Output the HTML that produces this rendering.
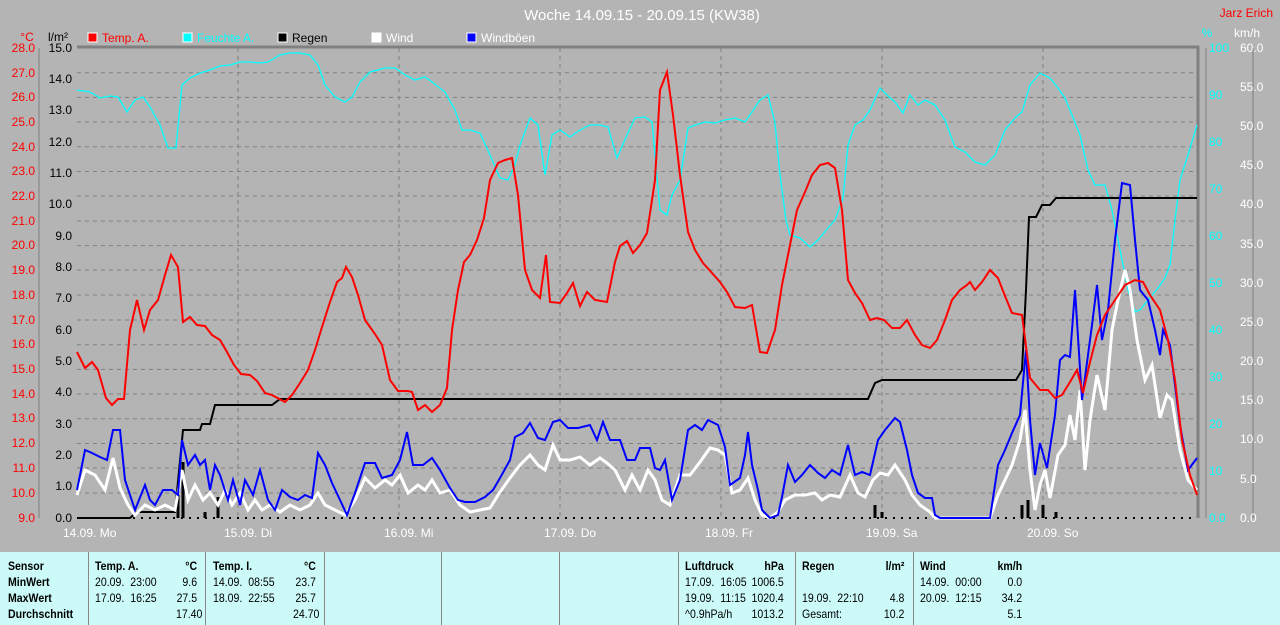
<!DOCTYPE html><html><head><meta charset="utf-8"><style>
body{margin:0;width:1280px;height:625px;background:#b4b4b4;overflow:hidden;font-family:"Liberation Sans",sans-serif}
svg{position:absolute;left:0;top:0}
.tb{position:absolute;left:0;top:552px;width:1280px;height:73px;background:#ccfaf8}
.c{position:absolute;top:6px;font-size:12px;line-height:16px;color:#000;transform:scaleX(.88);transform-origin:left top}
.b{font-weight:bold}
.sep{position:absolute;top:0;width:1px;height:73px;background:#888}
</style></head><body>
<svg width="1280" height="552" font-family="Liberation Sans" font-size="12">
<text x="642" y="20" fill="#fff" font-size="15" text-anchor="middle">Woche 14.09.15 - 20.09.15 (KW38)</text>
<text x="1273" y="17" fill="red" text-anchor="end">Jarz Erich</text>
<text x="27" y="41" fill="red" text-anchor="middle">°C</text>
<text x="58" y="41" fill="#000" text-anchor="middle">l/m²</text>
<text x="1207" y="37" fill="cyan" text-anchor="middle">%</text>
<text x="1247" y="37" fill="#fff" text-anchor="middle">km/h</text>
<g><rect x="88" y="33" width="9" height="9" fill="red" stroke="#fff"/><text x="102" y="42" fill="red">Temp. A.</text>
<rect x="183" y="33" width="9" height="9" fill="cyan" stroke="#fff"/><text x="197" y="42" fill="cyan">Feuchte A.</text>
<rect x="278" y="33" width="9" height="9" fill="#000" stroke="#fff"/><text x="292" y="42" fill="#000">Regen</text>
<rect x="372" y="33" width="9" height="9" fill="#fff" stroke="#fff"/><text x="386" y="42" fill="#fff">Wind</text>
<rect x="467" y="33" width="9" height="9" fill="blue" stroke="#fff"/><text x="481" y="42" fill="#fff">Windböen</text></g>
<g stroke="#808080" stroke-dasharray="4,4" stroke-width="1">
<path d="M77 72.7H1197M77 97.4H1197M77 122H1197M77 146.8H1197M77 171.5H1197M77 196H1197M77 221H1197M77 245.6H1197M77 270H1197M77 295H1197M77 320H1197M77 344.7H1197M77 369.4H1197M77 394H1197M77 418.8H1197M77 443.5H1197M77 468H1197M77 493H1197"/>
<path d="M238 48V518M399 48V518M560 48V518M721 48V518M882 48V518M1043 48V518"/>
</g>
<g stroke="#808080" fill="none"><path d="M77 47H1198V518" stroke-width="3"/><path d="M39 48V518M1206 48V518M1253 48V518"/></g>
<path d="M77 518H1197" stroke="#000" stroke-width="2" stroke-dasharray="2,6"/>
<polyline fill="none" stroke="cyan" stroke-width="1.3" points="77,90 90,92 100,98 110,96 118,97 127,112 135,100 143,97 150,107 160,125 168,148 176,148 182,85 190,78 200,73 210,70 220,66 230,65 240,62 250,62 260,63 268,62 280,55 290,53 300,53 310,55 318,65 325,85 335,97 345,102 352,97 360,82 370,72 385,68 395,68 405,75 415,80 425,77 432,82 445,92 455,110 462,130 470,130 480,133 490,155 500,178 508,180 515,165 520,145 530,118 538,125 545,175 552,135 560,130 570,137 580,130 590,125 600,125 608,127 617,158 627,135 635,118 645,117 652,122 660,210 667,215 672,195 680,180 688,128 695,125 705,122 715,123 725,120 735,118 745,122 752,112 760,100 768,95 775,123 780,175 786,220 790,235 800,238 810,247 818,240 828,228 835,220 843,198 848,145 855,125 863,120 870,110 880,88 888,96 895,102 903,113 910,95 918,105 925,100 935,105 945,120 955,147 965,152 975,162 985,165 995,155 1005,130 1015,118 1022,112 1030,85 1040,73 1050,78 1058,88 1065,98 1072,115 1080,135 1088,170 1095,185 1105,185 1112,210 1120,250 1128,290 1135,312 1140,310 1148,300 1158,288 1165,278 1170,265 1175,220 1180,180 1188,155 1197,125"/>
<g stroke="#000" stroke-width="3"><path d="M178 518V495M183 518V462M205 518V512M218 518V497M875 518V505M882 518V512M1022 518V505M1028 518V500M1043 518V505M1056 518V512"/></g>
<polyline fill="none" stroke="#000" stroke-width="2" points="77,518 130,518 137,512 175,512 183,430 200,430 202,424 210,424 215,405 272,405 280,399 868,399 875,383 882,380 1016,380 1022,370 1026,290 1029,217 1036,217 1042,205 1050,205 1056,198 1197,198"/>
<polyline fill="none" stroke="#fff" stroke-width="3" points="77,495 85,470 95,475 105,490 113,458 120,488 128,505 135,515 145,505 155,510 165,505 175,510 182,470 188,500 195,485 203,500 210,493 218,505 225,490 232,505 240,493 248,510 255,500 262,510 270,505 280,512 290,505 300,510 310,505 318,493 325,505 335,510 345,515 355,500 365,478 375,488 385,480 392,485 400,475 408,493 418,485 425,490 432,480 440,493 450,490 460,505 470,512 480,510 490,508 500,492 510,478 520,465 530,455 538,465 545,470 553,445 560,460 570,460 580,457 590,465 600,458 607,463 615,470 625,490 632,475 640,490 648,470 655,480 662,500 670,505 680,475 690,475 700,462 710,448 718,450 725,455 732,493 740,490 748,478 755,500 762,515 770,518 778,512 785,500 795,495 805,495 815,493 822,500 830,495 840,497 850,475 858,493 865,497 873,480 880,473 888,475 895,465 905,480 912,495 920,505 930,512 935,518 990,518 998,495 1005,480 1012,465 1020,440 1025,410 1030,470 1035,510 1040,485 1045,470 1050,498 1058,455 1065,445 1070,415 1075,440 1080,390 1085,470 1090,420 1097,375 1105,410 1112,330 1118,300 1125,270 1130,290 1137,340 1145,380 1152,365 1160,418 1167,395 1172,400 1180,450 1188,480 1197,490"/>
<polyline fill="none" stroke="blue" stroke-width="2" points="77,490 85,450 92,453 100,457 107,460 113,430 120,430 125,480 135,510 145,485 150,500 155,505 163,490 172,490 178,495 182,440 188,465 195,455 200,465 205,460 210,490 215,465 220,475 228,500 233,480 240,505 245,480 253,495 260,470 268,500 275,510 282,490 290,497 298,500 305,495 312,498 318,453 325,465 332,483 340,500 347,515 355,493 365,463 375,463 382,478 392,475 400,460 407,432 413,465 423,465 432,458 440,470 450,488 458,500 465,502 475,502 485,497 493,490 500,478 510,460 515,437 523,433 530,423 538,438 545,440 553,422 560,420 568,428 578,428 590,425 597,440 603,422 610,440 620,440 627,460 635,460 640,448 650,448 655,468 660,470 665,460 672,500 680,480 688,430 695,425 702,430 708,420 718,425 725,447 730,485 740,478 745,455 748,432 752,465 758,490 762,510 770,518 778,515 782,497 788,465 795,482 802,475 810,465 818,473 825,478 832,470 840,475 848,445 855,475 862,472 870,475 878,440 885,430 895,418 900,422 907,450 912,475 918,493 925,498 932,498 935,515 940,518 990,518 998,465 1005,450 1012,433 1020,415 1026,350 1030,420 1035,475 1040,443 1047,468 1055,415 1060,360 1065,355 1070,357 1075,290 1082,400 1088,355 1092,325 1097,285 1102,340 1108,310 1115,240 1122,183 1130,185 1135,240 1140,290 1148,300 1155,330 1160,355 1163,330 1170,345 1175,385 1180,425 1188,470 1197,458"/>
<polyline fill="none" stroke="red" stroke-width="2" points="77,352 85,368 92,362 98,370 106,398 112,405 118,399 124,399 130,330 137,300 144,330 150,310 158,300 165,275 171,255 178,267 183,322 190,317 197,325 205,326 212,335 220,340 227,352 234,365 241,374 250,375 257,381 265,393 272,395 285,402 292,395 300,383 308,370 315,350 322,327 330,302 337,282 342,278 346,267 352,277 358,295 365,320 375,334 382,345 390,380 398,391 408,391 412,392 418,410 425,405 432,412 440,405 447,388 452,330 458,290 464,262 470,255 477,240 484,218 490,180 498,163 505,160 512,158 518,195 525,270 532,290 540,298 546,255 550,302 560,303 567,293 573,283 580,306 587,292 595,300 607,302 615,262 620,246 627,241 633,253 640,245 647,233 655,180 660,90 667,72 673,115 680,175 688,232 695,250 703,263 712,273 720,282 727,292 735,307 745,308 752,305 760,352 767,353 775,330 782,285 790,245 797,210 805,192 812,175 820,165 828,163 835,168 842,210 848,280 855,293 862,303 870,320 877,318 884,320 892,328 900,328 907,320 915,335 922,345 930,348 937,340 945,320 952,300 960,290 967,285 970,282 975,290 982,282 990,270 998,278 1005,296 1012,313 1022,315 1030,378 1040,390 1048,390 1055,398 1062,395 1070,382 1077,370 1083,393 1090,362 1097,335 1105,315 1115,300 1125,285 1135,280 1143,282 1150,295 1160,310 1168,340 1175,380 1182,440 1190,475 1197,495"/>
<g fill="#fff" font-size="12"><text x="63" y="537">14.09.  Mo</text><text x="224" y="537">15.09.  Di</text><text x="384" y="537">16.09.  Mi</text><text x="544" y="537">17.09.  Do</text><text x="705" y="537">18.09.  Fr</text><text x="866" y="537">19.09.  Sa</text><text x="1027" y="537">20.09.  So</text></g>
</svg>
<div class="tb">
<div class="sep" style="left:88px"></div><div class="sep" style="left:205px"></div><div class="sep" style="left:324px"></div><div class="sep" style="left:441px"></div><div class="sep" style="left:559px"></div><div class="sep" style="left:678px"></div><div class="sep" style="left:795px"></div><div class="sep" style="left:913px"></div>
<div class="c b" style="left:8px">Sensor<br>MinWert<br>MaxWert<br>Durchschnitt</div>
<div class="c" style="left:95px"><b>Temp. A.</b><br>20.09.&nbsp; 23:00<br>17.09.&nbsp; 16:25</div>
<div class="c" style="left:176px;text-align:right;width:24px"><b>°C</b><br>9.6<br>27.5<br>17.40</div>
<div class="c" style="left:213px"><b>Temp. I.</b><br>14.09.&nbsp; 08:55<br>18.09.&nbsp; 22:55</div>
<div class="c" style="left:293px;text-align:right;width:26px"><b>°C</b><br>23.7<br>25.7<br>24.70</div>
<div class="c" style="left:685px"><b>Luftdruck</b><br>17.09.&nbsp; 16:05<br>19.09.&nbsp; 11:15<br>^0.9hPa/h</div>
<div class="c" style="left:738px;text-align:right;width:52px"><b>hPa</b><br>1006.5<br>1020.4<br>1013.2</div>
<div class="c" style="left:802px"><b>Regen</b><br>&nbsp;<br>19.09.&nbsp; 22:10<br>Gesamt:</div>
<div class="c" style="left:878px;text-align:right;width:30px"><b>l/m²</b><br>&nbsp;<br>4.8<br>10.2</div>
<div class="c" style="left:920px"><b>Wind</b><br>14.09.&nbsp; 00:00<br>20.09.&nbsp; 12:15</div>
<div class="c" style="left:994px;text-align:right;width:32px"><b>km/h</b><br>0.0<br>34.2<br>5.1</div>
</div>
<svg width="1280" height="552" font-family="Liberation Sans" font-size="12" style="pointer-events:none">
<g fill="red" text-anchor="end"><text x="35" y="52">28.0</text><text x="35" y="77">27.0</text><text x="35" y="101">26.0</text><text x="35" y="126">25.0</text><text x="35" y="151">24.0</text><text x="35" y="175">23.0</text><text x="35" y="200">22.0</text><text x="35" y="225">21.0</text><text x="35" y="249">20.0</text><text x="35" y="274">19.0</text><text x="35" y="299">18.0</text><text x="35" y="324">17.0</text><text x="35" y="348">16.0</text><text x="35" y="373">15.0</text><text x="35" y="398">14.0</text><text x="35" y="422">13.0</text><text x="35" y="447">12.0</text><text x="35" y="472">11.0</text><text x="35" y="497">10.0</text><text x="35" y="522">9.0</text></g>
<g fill="#000" text-anchor="end"><text x="72" y="52">15.0</text><text x="72" y="83">14.0</text><text x="72" y="114">13.0</text><text x="72" y="146">12.0</text><text x="72" y="177">11.0</text><text x="72" y="208">10.0</text><text x="72" y="240">9.0</text><text x="72" y="271">8.0</text><text x="72" y="302">7.0</text><text x="72" y="334">6.0</text><text x="72" y="365">5.0</text><text x="72" y="396">4.0</text><text x="72" y="428">3.0</text><text x="72" y="459">2.0</text><text x="72" y="490">1.0</text><text x="72" y="522">0.0</text></g>
<g fill="cyan"><text x="1209" y="52">100</text><text x="1209" y="99">90</text><text x="1209" y="146">80</text><text x="1209" y="193">70</text><text x="1209" y="240">60</text><text x="1209" y="287">50</text><text x="1209" y="334">40</text><text x="1209" y="381">30</text><text x="1209" y="428">20</text><text x="1209" y="475">10</text><text x="1209" y="522">0.0</text></g>
<g fill="#fff"><text x="1240" y="52">60.0</text><text x="1240" y="91">55.0</text><text x="1240" y="130">50.0</text><text x="1240" y="169">45.0</text><text x="1240" y="208">40.0</text><text x="1240" y="248">35.0</text><text x="1240" y="287">30.0</text><text x="1240" y="326">25.0</text><text x="1240" y="365">20.0</text><text x="1240" y="404">15.0</text><text x="1240" y="443">10.0</text><text x="1240" y="483">5.0</text><text x="1240" y="522">0.0</text></g>
</svg>
</body></html>
